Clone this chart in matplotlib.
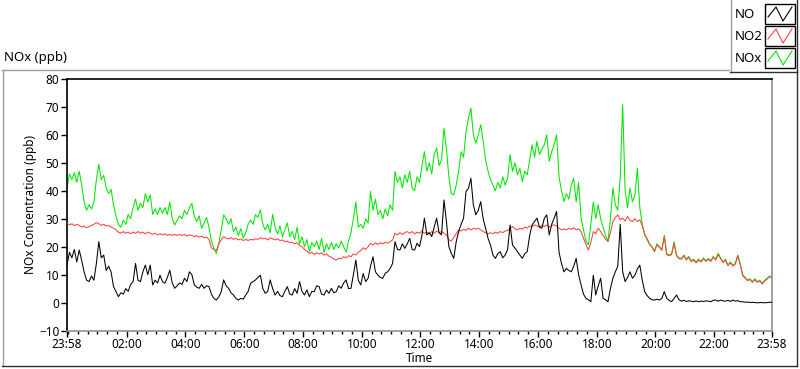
import matplotlib
matplotlib.use("Agg")
import matplotlib.pyplot as plt
from matplotlib.lines import Line2D
from matplotlib.patches import Rectangle

# ---------------- data: 5-minute readings, minutes since 23:58, ppb ----------------
minutes = list(range(0, 1441, 5))

nox = [41, 46, 44, 46.5, 43, 47, 42, 36, 33, 35, 33.5, 36,
       44, 49.5, 44, 45.5, 41, 39, 40.5, 35, 31, 28, 27, 29.5,
       28, 31.5, 30, 34, 37, 33, 35.5, 34, 39, 36, 38.5, 31.5,
       33.5, 31.5, 34, 32, 34, 31.5, 36, 30, 27.8, 29.5, 31, 30,
       33, 31.5, 34, 35.5, 31, 29, 31, 26.6, 28.5, 30.5, 27, 22,
       19.5, 17.5, 21, 26, 31.4, 30, 28, 30, 25.4, 27, 24, 26.5,
       23, 25, 28, 29.5, 28, 31.4, 30.5, 33.2, 28, 26, 28, 25,
       31.5, 27, 24.5, 27.5, 23.5, 26, 28.5, 23.5, 25.5, 22.5, 27, 21,
       23.5, 20, 22.5, 18.2, 21.5, 20, 22, 19, 23, 18, 21, 19,
       21.5, 19, 21, 19.5, 22, 20, 18, 22, 25, 30, 36, 27,
       28, 26.5, 30, 28.5, 39.7, 33, 37, 31.4, 33, 30, 33.5, 31,
       35, 33, 46.9, 43, 45, 41, 45.7, 43, 47, 41, 40, 45,
       43, 49, 54, 47, 50, 46, 53, 55.3, 49, 51, 62.4, 55,
       45, 39, 38.5, 42, 47, 54, 52, 61.2, 66, 69.6, 60, 57,
       60, 63.6, 58, 51, 47, 44, 42, 40, 43, 41, 45, 42,
       44.5, 52.9, 47, 50, 45.7, 48, 43.3, 47, 45.7, 51, 56.5, 52,
       57.7, 53, 55, 56.5, 60, 50.5, 54, 56.5, 60, 45, 40, 36.1,
       39, 37, 42, 44.5, 36, 43, 30.2, 26, 22, 20.6, 28, 36,
       30, 35, 30, 27, 24, 22, 30, 41, 35, 33, 45, 70.8,
       40, 34, 41, 36, 38.5, 48, 34, 28, 24, 23, 21, 20,
       18.5, 21, 20, 19, 24, 17.5, 17, 17.5, 21.8, 17, 16, 15.8,
       17, 15.5, 16.5, 15, 15.5, 14.5, 15.5, 14.8, 16, 15, 15.8, 15,
       16.5, 15.5, 17.6, 16, 14.6, 15.5, 13.5, 14.5, 13.4, 14, 17, 14,
       10, 9, 8.1, 8.5, 7.5, 8.5, 7.5, 8, 6.9, 8, 8.7, 9.5,
       9.3]

no2 = [28.4, 27.8, 28.2, 27.5, 28.0, 27.6, 27.0, 27.4, 26.8, 27.2, 27.6, 28.0,
       28.6, 28.2, 27.6, 28.0, 27.4, 27.6, 27.0, 26.6, 26.0, 25.2, 24.8, 25.4,
       24.8, 25.2, 24.6, 25.2, 24.8, 25.4, 24.8, 25.2, 24.6, 25.2, 24.8, 24.4,
       24.8, 24.2, 24.6, 24.2, 24.6, 24.0, 24.4, 24.0, 24.4, 24.0, 24.4, 24.0,
       24.4, 23.8, 24.2, 24.0, 23.6, 24.0, 23.4, 23.8, 23.2, 23.4, 22.6, 19.6,
       19.0, 18.6, 21.0, 22.4, 23.6, 23.0, 22.8, 23.2, 22.6, 23.0, 22.4, 22.8,
       22.2, 22.6, 22.2, 22.6, 22.4, 22.8, 22.6, 23.2, 22.8, 23.0, 22.4, 23.2,
       22.8, 22.4, 22.8, 22.2, 22.4, 21.8, 22.0, 21.4, 21.6, 21.0, 21.4, 20.4,
       20.0, 19.0, 18.4, 17.6, 18.0, 17.2, 17.8, 17.4, 17.8, 17.0, 17.4, 16.6,
       16.2, 15.6, 15.2, 15.8, 15.6, 16.4, 16.0, 16.8, 16.4, 17.4, 17.0, 18.0,
       18.6, 19.6, 19.0, 20.0, 21.2, 20.6, 21.4, 20.8, 21.4, 21.0, 21.6, 21.2,
       21.8, 22.4, 24.8, 24.2, 25.0, 24.4, 25.0, 25.4, 24.8, 25.4, 24.6, 25.2,
       24.8, 25.6, 24.8, 25.2, 24.6, 25.4, 24.8, 25.6, 25.0, 25.4, 24.8, 24.2,
       22.4, 22.0, 23.4, 24.6, 26.0, 25.6, 26.2, 25.8, 26.6, 26.0, 26.6, 26.2,
       26.6, 26.0, 25.4, 25.0, 24.6, 25.0, 24.6, 25.2, 24.8, 25.4, 25.0, 25.6,
       25.8, 26.6, 27.2, 26.4, 26.0, 26.6, 26.2, 27.0, 26.6, 27.4, 27.2, 27.8,
       27.4, 27.0, 27.6, 27.2, 27.8, 27.0, 27.6, 27.8, 27.4, 26.6, 26.0, 26.4,
       26.0, 26.6, 26.2, 26.8, 26.0, 26.4, 25.4, 23.0, 20.8, 18.8, 21.5, 25.4,
       24.6, 26.6, 25.4, 24.0, 22.8, 21.8, 25.0, 29.0, 30.4, 31.4, 29.6, 30.2,
       29.2, 30.8, 29.4, 29.0, 30.0, 29.0, 29.6, 27.5, 24.5, 22.5, 20.7, 19.7,
       18.2, 20.7, 19.7, 18.7, 23.6, 17.2, 16.7, 17.2, 21.2, 16.7, 15.7, 15.5,
       16.7, 15.2, 16.2, 14.7, 15.2, 14.2, 15.2, 14.5, 15.7, 14.7, 15.5, 14.7,
       16.2, 15.2, 17.2, 15.7, 14.3, 15.2, 13.2, 14.2, 13.1, 13.7, 16.6, 13.7,
       9.7, 8.7, 7.8, 8.2, 7.2, 8.2, 7.2, 7.7, 6.6, 7.7, 8.4, 9.2,
       9.0]

no = [13.4, 18, 16, 19, 14.5, 18.8, 15, 11, 8, 7.5, 9.5, 8,
      14, 21.8, 16, 17, 11.5, 13, 11, 5.7, 4, 2.1, 3.5, 3,
      5, 4, 6.5, 7.5, 14, 8, 7.5, 11, 13.4, 10, 13.4, 6.3,
      8, 7, 9.8, 7.5, 6.9, 9, 11.6, 7, 5.1, 6, 7, 6.5,
      8.7, 7.5, 11, 10, 6.3, 5.5, 5.1, 6.5, 5.1, 6, 5.7, 3,
      1.5, 0.9, 2, 3.9, 8.1, 6, 5.1, 3.5, 2.7, 1.5, 0.9, 1.5,
      1.2, 2.7, 4, 6.9, 7.5, 8.1, 9, 9.8, 5, 3.3, 4, 8.1,
      5, 2.7, 4, 2.5, 2.1, 4, 5.7, 3, 2.7, 5, 3.3, 7.5,
      4, 2.7, 4.5, 2.1, 4, 3.9, 6, 5.7, 3, 2.7, 4.5, 3.3,
      5.1, 3.5, 3.9, 6, 5.1, 7, 8.1, 5, 5.1, 10, 15.2, 8,
      6.3, 10.4, 7.5, 8.7, 13, 16.4, 11, 9.8, 9, 8.7, 10.5, 11,
      12.2, 14, 21.8, 19, 18.8, 21, 19.4, 21, 23, 19, 18.8, 21.2,
      20, 24, 30.2, 24.2, 25, 23.6, 27, 30.2, 25, 24.2, 36.7, 29,
      20, 17.6, 15.8, 21.8, 25.4, 28, 30.2, 39.7, 40.9, 44.5, 34.9, 31.4,
      33, 36.1, 30, 26.6, 23, 20.6, 17, 15.8, 17.5, 18.2, 16, 17,
      19, 27.8, 20.6, 19.5, 18.2, 17, 15.8, 17.5, 18.2, 24, 27.8, 29,
      30.2, 27, 26.6, 30.2, 31.4, 24.2, 28, 30.2, 32.6, 18, 14, 11,
      12.2, 11.5, 11, 13, 15.8, 10, 6.3, 3, 1.5, 1, 0.3, 9.8,
      2.7, 6, 8.7, 1.5, 1, 0.3, 5, 8.7, 11, 13, 28, 11,
      7.5, 9, 11, 8.7, 9.8, 12, 13.4, 8, 3.9, 2.5, 1.5, 1,
      0.9, 1.2, 0.9, 1.5, 3.9, 1.5, 0.8, 0.3, 1.5, 2.7, 1, 0.5,
      0.8, 0.4, 0.6, 0.5, 0.3, 0.6, 0.3, 0.5, 0.4, 0.6, 0.5, 0.3,
      0.8, 0.9, 0.5, 0.9, 0.6, 0.5, 0.8, 0.4, 0.9, 0.5, 0.7, 0.3,
      0.3, 0.1, 0.2, 0.0, 0.1, 0.0, -0.1, 0.0, 0.0, -0.1, 0.0, 0.1,
      0.1]

tick_pos = [0, 122, 242, 362, 482, 602, 722, 842, 962, 1082, 1202, 1322, 1440]
tick_labels = ["23:58", "02:00", "04:00", "06:00", "08:00", "10:00", "12:00",
               "14:00", "16:00", "18:00", "20:00", "22:00", "23:58"]
series_names = ["NO", "NO2", "NOx"]
series_colors = ["#000000", "#ff4040", "#00e600"]

# ---------------- figure ----------------
W, H = 800, 369
plt.rcParams["font.family"] = ["Noto Sans", "DejaVu Sans"]
fig = plt.figure(figsize=(W / 100, H / 100), dpi=100)
fig.patch.set_facecolor("white")

def fx(px):
    return px / W

def fy(py):
    return 1 - py / H

# outer panel frame
fig.add_artist(Line2D([fx(2), fx(797)], [fy(69.5), fy(69.5)], color="#a0a0a0", lw=1))
fig.add_artist(Line2D([fx(2.5), fx(2.5)], [fy(69.5), fy(366)], color="#a0a0a0", lw=1))
fig.add_artist(Line2D([fx(2), fx(797)], [fy(366), fy(366)], color="#303030", lw=1))
fig.add_artist(Line2D([fx(797), fx(797)], [fy(72), fy(366)], color="#303030", lw=1))

ax = fig.add_axes([fx(67), fy(330.5), fx(772) - fx(67), fy(79) - fy(330.5)])
ax.set_facecolor("white")

# NOx bottom, NO2 above, NO on top
ax.plot(minutes, nox, color=series_colors[2], lw=0.75, zorder=2)
ax.plot(minutes, no2, color=series_colors[1], lw=0.75, zorder=3)
ax.plot(minutes, no, color=series_colors[0], lw=0.75, zorder=4)

ax.set_xlim(0, 1440)
ax.set_ylim(-10, 80)
ax.set_yticks(range(-10, 81, 10))
ax.set_xticks(tick_pos)
ax.set_xticklabels(tick_labels)
minor = [m for m in range(2, 1440, 20) if m not in tick_pos]
ax.set_xticks(minor, minor=True)

for s in ["left", "top"]:
    ax.spines[s].set_color("black")
    ax.spines[s].set_linewidth(1.2)
for s in ["right", "bottom"]:
    ax.spines[s].set_color("#909090")
    ax.spines[s].set_linewidth(1.2)

ax.tick_params(axis="y", direction="out", length=4, width=1, pad=1.5, labelsize=8.5, colors="black")
ax.tick_params(axis="x", which="major", direction="out", length=4, width=1, pad=1.5, labelsize=8.5)
ax.tick_params(axis="x", which="minor", direction="out", length=2.5, width=1)

ax.set_ylabel("NOx Concentration (ppb)", fontsize=8.5)
ax.yaxis.set_label_coords((31 - 67) / (772 - 67), 0.5)
ax.yaxis.label.set_va("center")
ax.set_xlabel("Time", fontsize=8.5)
ax.xaxis.set_label_coords(0.5, -(359 - 330.5) / (330.5 - 79))
ax.xaxis.label.set_va("center")

fig.text(fx(4), fy(58), "NOx (ppb)", fontsize=9.5, va="center", ha="left")

# legend panel
fig.add_artist(Rectangle((fx(730), fy(72)), fx(797) - fx(730), fy(0) - fy(72),
                         facecolor="white", edgecolor="none", zorder=5))
fig.add_artist(Line2D([fx(730.5), fx(730.5)], [fy(0), fy(72)], color="#a0a0a0", lw=1, zorder=6))
fig.add_artist(Line2D([fx(730), fx(797)], [fy(72), fy(72)], color="#303030", lw=1, zorder=6))
fig.add_artist(Line2D([fx(797), fx(797)], [fy(0), fy(72)], color="#303030", lw=1, zorder=6))

rows = [14, 36, 58]
for name, col, cy in zip(series_names, series_colors, rows):
    fig.text(fx(735), fy(cy), name, fontsize=9.5, va="center", ha="left", zorder=7)
    bx0, bx1, by0, by1 = 765, 795, cy - 10, cy + 10
    fig.add_artist(Rectangle((fx(bx0), fy(by1)), fx(bx1) - fx(bx0), fy(by0) - fy(by1),
                             facecolor="white", edgecolor="black", lw=1, zorder=7))
    xs = [bx0 + 3, bx0 + 11, bx0 + 18, bx0 + 27]
    ys = [cy + 3, cy - 7, cy + 7, cy - 7]
    fig.add_artist(Line2D([fx(v) for v in xs], [fy(v) for v in ys], color=col, lw=0.8, zorder=8))

fig.savefig("out.png", dpi=100, facecolor="white")
